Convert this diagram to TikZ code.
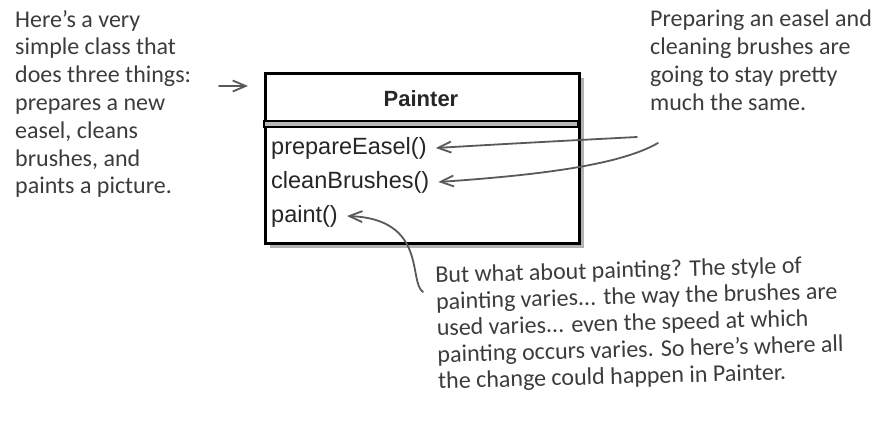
\documentclass[tikz,border=0pt]{standalone}
\usepackage{fontspec}
\setmainfont{Liberation Sans}
\newfontfamily\handfont{Carlito}
\usepackage{xcolor}
\usetikzlibrary{arrows.meta,positioning,shadows,calc}
\definecolor{inkgray}{HTML}{3C3C3C}
\tikzset{
  classbox/.style={rectangle, draw=black, line width=2.8pt, fill=white, inner sep=0pt,
                   drop shadow={shadow xshift=5pt, shadow yshift=-5pt, fill=black, opacity=0.3}},
  method/.style={anchor=west, inner sep=2pt, text=black!85, font=\fontsize{23.5}{27}\selectfont},
  note/.style={align=left, inner sep=0pt, text=inkgray, font=\handfont\fontsize{24}{27.8}\selectfont},
  notearr/.style={-{Straight Barb[length=13pt,width=11pt]}, line width=1.8pt, draw=black!65, line cap=round},
}
\begin{document}
\begin{tikzpicture}[x=1pt, y=-1pt]
\useasboundingbox (0,0) rectangle (877,440);

% Painter class
\node[classbox, minimum width=314pt, minimum height=170pt, anchor=north west] (painter) at (264,72) {};
\node[text=black!85, font=\bfseries\fontsize{22}{26}\selectfont] (name) at (421,99) {Painter};
\draw[line width=1.5pt, fill=gray!55] (264,121) rectangle (578,127);

% Methods
\node[method] (prep) at (269,148) {prepareEasel()};
\node[method] (clean) at (269,182) {cleanBrushes()};
\node[method] (paint) at (269,216) {paint()};

% Notes
\node[note, anchor=north west] (what) at (15,10) {Here’s a very\\simple class that\\does three things:\\prepares a new\\easel, cleans\\brushes, and\\paints a picture.};
\node[note, anchor=north west] (same) at (650,10) {Preparing an easel and\\cleaning brushes are\\going to stay pretty\\much the same.};
\node[note, anchor=north west, rotate=1.5, font=\handfont\fontsize{24}{26.5}\selectfont] (vary) at (435,266) {But what about painting? The style of\\painting varies... the way the brushes are\\used varies... even the speed at which\\painting occurs varies. So here’s where all\\the change could happen in Painter.};

% Arrows
\coordinate (lstart) at (219,86);
\coordinate (rstart1) at (637,137);
\coordinate (rstart2) at (658,143);
\coordinate (bstart) at (423,292);
\draw[notearr, shorten >=16pt] (lstart) -- (lstart -| painter.west);
\draw[notearr] (rstart1) .. controls (580,140) and (520,143) .. ([xshift=7pt]prep.east);
\draw[notearr] (rstart2) .. controls (620,165) and (540,175) .. ([xshift=7pt]clean.east);
\draw[notearr] (bstart) .. controls (408,282) and (428,219) .. ([xshift=7pt]paint.east);

\end{tikzpicture}
\end{document}
